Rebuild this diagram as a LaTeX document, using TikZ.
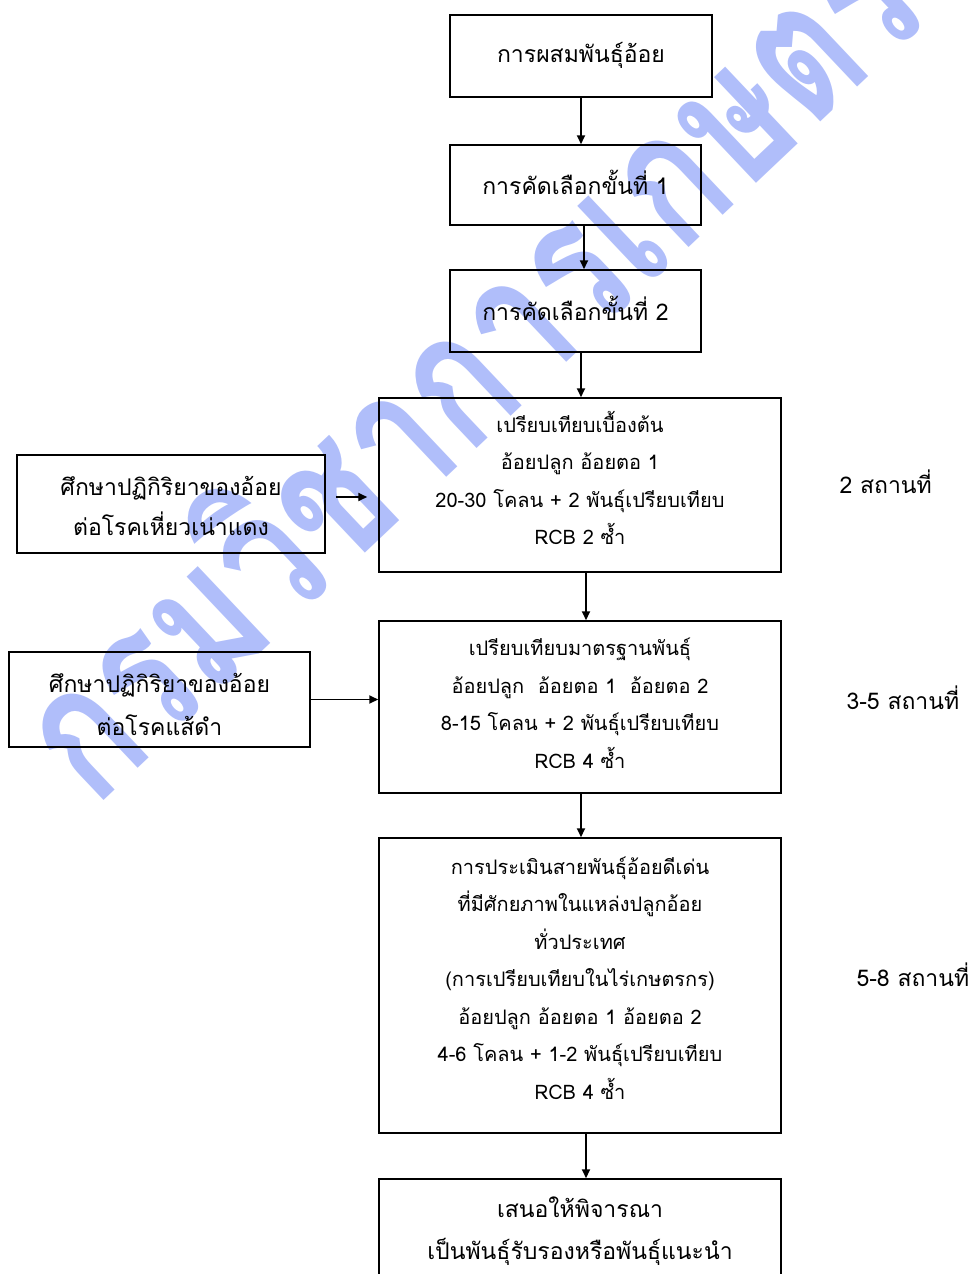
\documentclass[tikz,border=0pt]{standalone}
\usepackage{fontspec}
\usetikzlibrary{arrows.meta,calc}
\newfontfamily\thai[Script=Thai]{Loma}
\definecolor{wmblue}{RGB}{176,190,250}
\tikzset{
  box/.style={draw=black, line width=1.5pt, inner sep=0pt},
  txt/.style={align=center, inner sep=0pt, font=\thai\fontsize{20}{37.5}\selectfont},
  bigtxt/.style={align=center, inner sep=0pt, font=\thai\fontsize{23}{41}\selectfont},
  arr/.style={-{Triangle[length=9pt,width=8pt]}, line width=1.8pt},
  site/.style={anchor=west, font=\thai\fontsize{23}{27}\selectfont},
  wm/.style={text=wmblue, font=\thai\bfseries\fontsize{190}{200}\selectfont, rotate=43.4, anchor=base west, inner sep=0pt}
}
\begin{document}
\begin{tikzpicture}[x=1pt,y=-1pt]
\useasboundingbox (0,0) rectangle (972,1274);
% watermark
\node[wm] (wmark) at (94,810) {\scalebox{0.75}[1]{กรมวิชาการเกษตร}};
% main chain
\node[box, minimum width=262pt, minimum height=82pt, label={[bigtxt, yshift=1pt]center:การผสมพันธุ์อ้อย}] (A) at (581,56) {};
\node[box, minimum width=251pt, minimum height=80pt, label={[bigtxt, yshift=3pt]center:การคัดเลือกขั้นที่ 1}] (B) at (575.5,185) {};
\node[box, minimum width=251pt, minimum height=82pt, label={[bigtxt, yshift=3pt]center:การคัดเลือกขั้นที่ 2}] (C) at (575.5,311) {};
\node[box, minimum width=402pt, minimum height=174pt, label={[txt, yshift=7pt]center:{เปรียบเทียบเบื้องต้น\\อ้อยปลูก อ้อยตอ 1\\20-30 โคลน + 2 พันธุ์เปรียบเทียบ\\RCB 2 ซ้ำ}}] (D) at (580,485) {};
\node[box, minimum width=402pt, minimum height=172pt, label={[txt, yshift=3.5pt]center:{เปรียบเทียบมาตรฐานพันธุ์\\อ้อยปลูก\ \ อ้อยตอ 1\ \ อ้อยตอ 2\\8-15 โคลน + 2 พันธุ์เปรียบเทียบ\\RCB 4 ซ้ำ}}] (F) at (580,707) {};
\node[box, minimum width=402pt, minimum height=295pt, label={[txt, yshift=7.5pt]center:{การประเมินสายพันธุ์อ้อยดีเด่น\\ที่มีศักยภาพในแหล่งปลูกอ้อย\\ทั่วประเทศ\\(การเปรียบเทียบในไร่เกษตรกร)\\อ้อยปลูก อ้อยตอ 1 อ้อยตอ 2\\4-6 โคลน + 1-2 พันธุ์เปรียบเทียบ\\RCB 4 ซ้ำ}}] (H) at (580,985.5) {};
\node[box, minimum width=402pt, minimum height=104pt, label={[bigtxt, font=\thai\fontsize{23}{42}\selectfont, yshift=0pt]center:{เสนอให้พิจารณา\\เป็นพันธุ์รับรองหรือพันธุ์แนะนำ}}] (I) at (580,1231) {};
% side boxes
\node[box, minimum width=308pt, minimum height=98pt, label={[bigtxt, font=\thai\fontsize{23}{40}\selectfont, yshift=-2pt]center:{ศึกษาปฏิกิริยาของอ้อย\\ต่อโรคเหี่ยวเน่าแดง}}] (E) at (171,504) {};
\node[box, minimum width=301pt, minimum height=95pt, label={[bigtxt, font=\thai\fontsize{23}{43}\selectfont, yshift=-4.5pt]center:{ศึกษาปฏิกิริยาของอ้อย\\ต่อโรคแส้ดำ}}] (G) at (159.5,699.5) {};
% site labels
\node[site] (s1) at (836,482) {2 สถานที่};
\node[site] (s2) at (843,698) {3-5 สถานที่};
\node[site] (s3) at (853,975) {5-8 สถานที่};
% arrows
\draw[arr] (A.south) -- (A.south |- B.north);
\draw[arr] ([xshift=8.5pt]B.south) -- ([xshift=8.5pt]B.south |- C.north);
\draw[arr] ([xshift=5.5pt]C.south) -- ([xshift=5.5pt]C.south |- D.north);
\draw[arr] ([xshift=6pt]D.south) -- ([xshift=6pt]D.south |- F.north);
\draw[arr] ([xshift=1pt]F.south) -- ([xshift=1pt]F.south |- H.north);
\draw[arr] ([xshift=6pt]H.south) -- ([xshift=6pt]H.south |- I.north);
\draw[arr, shorten <=10pt, shorten >=11pt] ([yshift=7pt]E.east) -- ([yshift=7pt]E.east -| D.west);
\draw[arr] (G.east) -- (G.east -| F.west);
\end{tikzpicture}
\end{document}
